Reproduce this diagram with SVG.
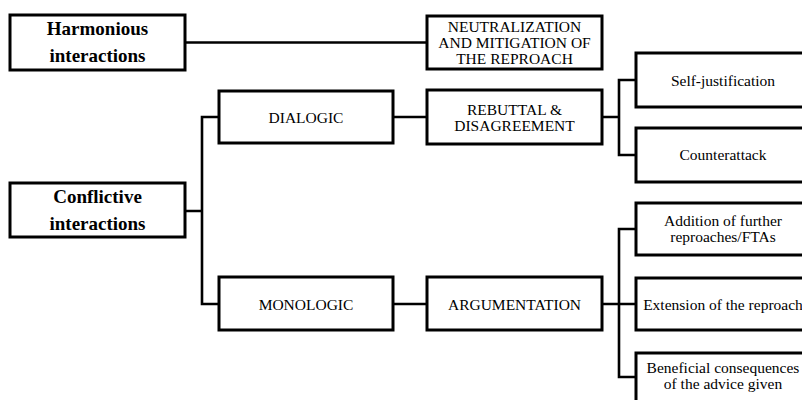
<svg xmlns="http://www.w3.org/2000/svg" width="802" height="400" viewBox="0 0 802 400">
<style>
.box{fill:#fff;stroke:#000;stroke-width:3}
.con{fill:none;stroke:#000;stroke-width:2.6}
text{font-family:'Liberation Serif','DejaVu Serif',serif;fill:#000;text-anchor:middle}
.b{font-weight:bold;font-size:19px}
.n{font-size:15.5px}
</style>
<rect width="802" height="400" fill="#fff"/>
<g id="connectors">
<path class="con" d="M185 42.5H427"/>
<path class="con" d="M185 211H202M219 117H202V304H219"/>
<path class="con" d="M393 117H427M393 304H427"/>
<path class="con" d="M602 117H619M636 80H619V155H636"/>
<path class="con" d="M602 304H636M636 229H619V377H636"/>
</g>
<g id="harmonious"><rect class="box" x="10" y="15" width="175" height="55"/><text class="b" x="97.5" y="35">Harmonious</text><text class="b" x="97.5" y="62">interactions</text></g>
<g id="conflictive"><rect class="box" x="10" y="183" width="175" height="54"/><text class="b" x="97.5" y="203">Conflictive</text><text class="b" x="97.5" y="230">interactions</text></g>
<g id="neutralization"><rect class="box" x="427" y="16" width="175" height="53"/><text class="n" x="514.5" y="32">NEUTRALIZATION</text><text class="n" x="514.5" y="48">AND MITIGATION OF</text><text class="n" x="514.5" y="64">THE REPROACH</text></g>
<g id="dialogic"><rect class="box" x="219" y="91" width="174" height="52"/><text class="n" x="306" y="123">DIALOGIC</text></g>
<g id="monologic"><rect class="box" x="219" y="277" width="174" height="53"/><text class="n" x="306" y="310">MONOLOGIC</text></g>
<g id="rebuttal"><rect class="box" x="427" y="90" width="175" height="54"/><text class="n" x="514.5" y="115">REBUTTAL &amp;</text><text class="n" x="514.5" y="131">DISAGREEMENT</text></g>
<g id="argumentation"><rect class="box" x="427" y="277" width="175" height="53"/><text class="n" x="514.5" y="310">ARGUMENTATION</text></g>
<g id="self-justification"><rect class="box" x="636" y="53" width="175" height="54"/><text class="n" x="723" y="86">Self-justification</text></g>
<g id="counterattack"><rect class="box" x="636" y="128" width="175" height="54"/><text class="n" x="723" y="160">Counterattack</text></g>
<g id="addition"><rect class="box" x="636" y="203" width="175" height="52"/><text class="n" x="723" y="226">Addition of further</text><text class="n" x="723" y="242">reproaches/FTAs</text></g>
<g id="extension"><rect class="box" x="636" y="278" width="175" height="52"/><text class="n" x="723" y="310">Extension of the reproach</text></g>
<g id="beneficial"><rect class="box" x="636" y="353" width="175" height="53"/><text class="n" x="723" y="373">Beneficial consequences</text><text class="n" x="723" y="389">of the advice given</text></g>
</svg>
